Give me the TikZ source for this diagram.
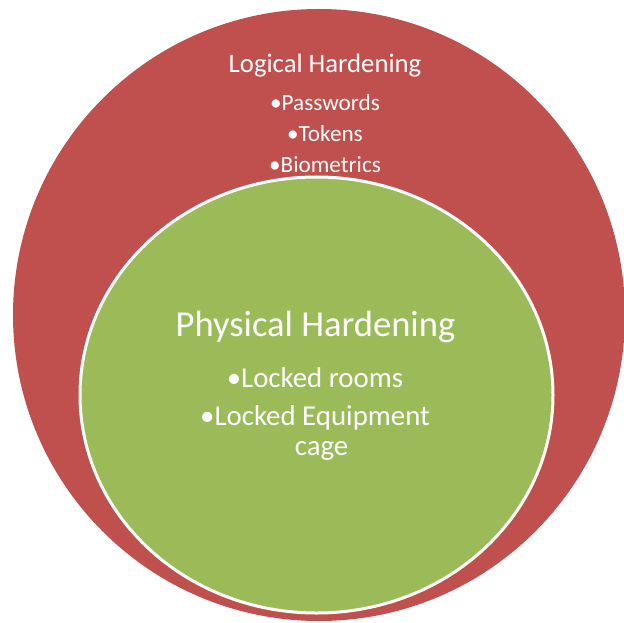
\documentclass[tikz,border=0pt]{standalone}
\usepackage{fontspec}
\setmainfont{Carlito}
\definecolor{hardred}{HTML}{C0504D}
\definecolor{hardgreen}{HTML}{9BBB59}
\tikzset{
	lbl/.style={text=white, inner sep=0pt, anchor=base},
	outertitle/.style={lbl, font=\fontsize{19}{22}\selectfont},
	outeritem/.style={lbl, font=\fontsize{16.5}{20}\selectfont},
	innertitle/.style={lbl, font=\fontsize{26}{30}\selectfont},
	inneritem/.style={lbl, font=\fontsize{20.5}{24}\selectfont}
}

\begin{document}
\begin{tikzpicture}[x=0.025cm, y=-0.025cm]
			%%%%% START %%%%%
			\useasboundingbox (0, 0) rectangle (624, 623);
			
			% outer circle
			\fill[hardred] (319, 315) circle (306);
			
			% inner circle
			\draw[line width=0.075cm, color=white, fill=hardgreen] (316.5, 395) ellipse (236.5 and 218);
			
			\node[outertitle] (logical) at (325, 73) {Logical Hardening};
			\node[outeritem] (passwords) at (325, 111) {\textbullet Passwords};
			\node[outeritem] (tokens) at (325, 141.5) {\textbullet Tokens};
			\node[outeritem] (biometrics) at (325, 172.5) {\textbullet Biometrics};
			
			\node[innertitle] (physical) at (315.5, 336.5) {Physical Hardening};
			\node[inneritem] (rooms) at (315, 387.5) {\textbullet Locked rooms};
			\node[inneritem] (equipment) at (315, 425) {\textbullet Locked Equipment};
			\node[inneritem] (cage) at (321.5, 455) {cage};
			
			%%%%% END %%%%%
\end{tikzpicture}
\end{document}
